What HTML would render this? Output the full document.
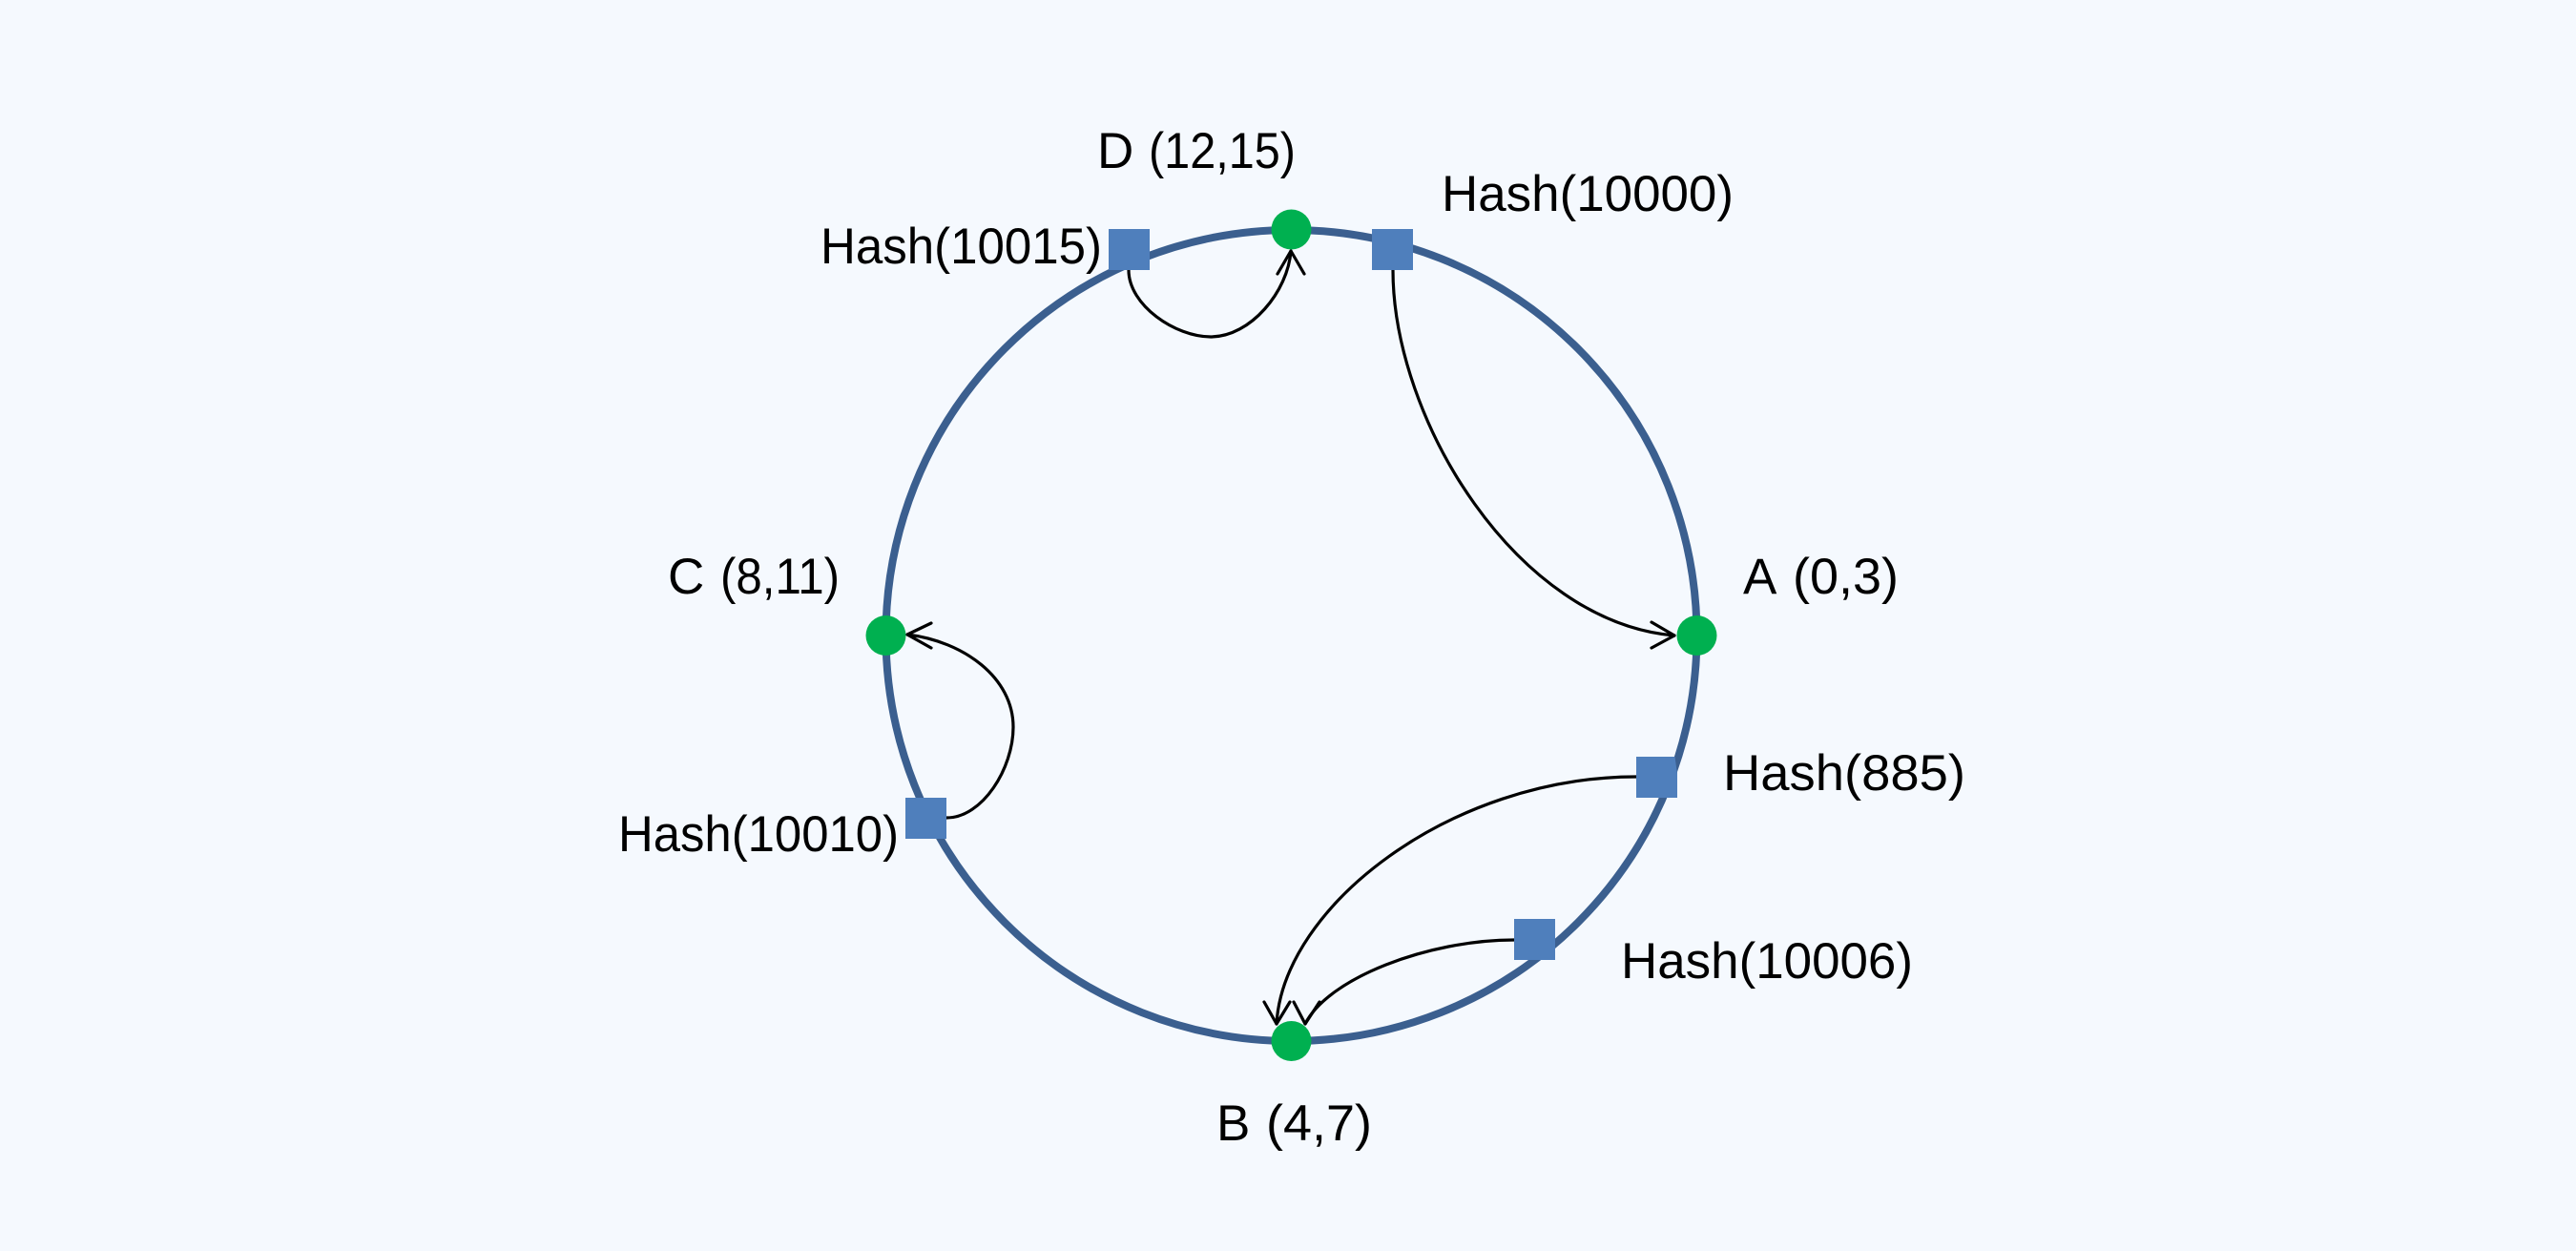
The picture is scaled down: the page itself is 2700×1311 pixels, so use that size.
<!DOCTYPE html>
<html><head><meta charset="utf-8"><style>
html,body{margin:0;padding:0;background:#f5f9fe;width:2700px;height:1311px;overflow:hidden}
svg{display:block}
text{font-family:"Liberation Sans",sans-serif;font-size:53px;fill:#000}
</style></head><body>
<svg width="2700" height="1311" viewBox="0 0 2700 1311" xmlns="http://www.w3.org/2000/svg">
<rect width="2700" height="1311" fill="#f5f9fe"/>
<circle cx="1353.5" cy="666" r="425" fill="none" stroke="#3b5f8f" stroke-width="8"/>
<g fill="none" stroke="#000" stroke-width="3.2" stroke-linecap="round" stroke-linejoin="round">
<path d="M1183 283C1183 320 1232 353 1269 353C1311 353 1350 305 1353 263"/>
<path d="M1339 287L1353 263L1367 287"/>
<path d="M1460 283C1460 440 1590 652 1755 666"/>
<path d="M1731 652L1755 666L1731 679"/>
<path d="M1715 814C1520 814 1345 950 1338 1073"/>
<path d="M1325 1050L1338 1073L1352 1050"/>
<path d="M1587 985C1497 985 1392 1025 1368 1073"/>
<path d="M1356 1050L1368 1073L1383 1050"/>
<path d="M992 857C1030 857 1062 805 1062 762C1062 710 1010 672 951 665"/>
<path d="M976 653L951 665L976 679"/>
</g>
<g fill="#4f7fbc">
<rect x="1162" y="240" width="43" height="43"/>
<rect x="1438" y="240" width="43" height="43"/>
<rect x="1715" y="793" width="43" height="43"/>
<rect x="1587" y="963" width="43" height="43"/>
<rect x="949" y="836" width="43" height="43"/>
</g>
<polygon points="1755.5,793 1758,793 1758,811" fill="#3b5f8f"/>
<g fill="#00b050">
<circle cx="1353.5" cy="240.5" r="21"/>
<circle cx="1778.5" cy="666" r="21"/>
<circle cx="1353.5" cy="1091" r="21"/>
<circle cx="928.5" cy="666" r="21"/>
</g>
<text x="1150" y="176">D</text>
<text x="1204" y="176" textLength="154" lengthAdjust="spacingAndGlyphs">(12,15)</text>
<text x="1511" y="221" textLength="306" lengthAdjust="spacingAndGlyphs">Hash(10000)</text>
<text x="860" y="276" textLength="295" lengthAdjust="spacingAndGlyphs">Hash(10015)</text>
<text x="1827" y="622">A</text>
<text x="1879" y="622" textLength="111" lengthAdjust="spacingAndGlyphs">(0,3)</text>
<text x="700" y="622">C</text>
<text x="755" y="622" textLength="125" lengthAdjust="spacingAndGlyphs">(8,11)</text>
<text x="648" y="892" textLength="294" lengthAdjust="spacingAndGlyphs">Hash(10010)</text>
<text x="1806" y="828" textLength="254" lengthAdjust="spacingAndGlyphs">Hash(885)</text>
<text x="1699" y="1025" textLength="306" lengthAdjust="spacingAndGlyphs">Hash(10006)</text>
<text x="1275" y="1195">B</text>
<text x="1327" y="1195" textLength="111" lengthAdjust="spacingAndGlyphs">(4,7)</text>
</svg>
</body></html>
